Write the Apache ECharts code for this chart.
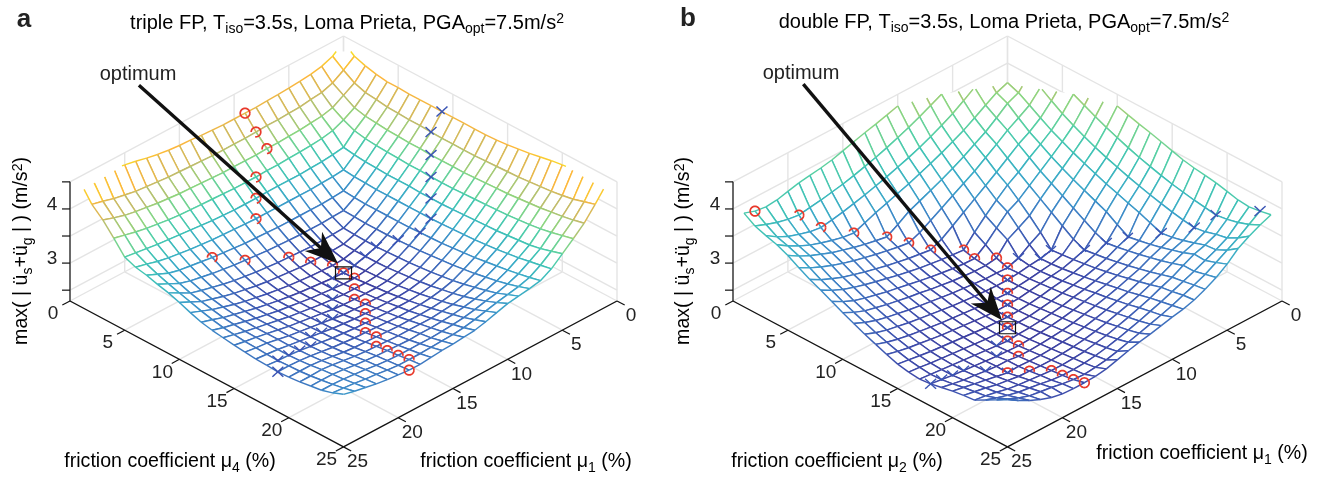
<!DOCTYPE html>
<html>
<head>
<meta charset="utf-8">
<style>html,body{margin:0;padding:0;background:#fff}#chart{width:1329px;height:477px}</style>
<script src="https://cdn.jsdelivr.net/npm/echarts@6/dist/echarts.min.js"></script>
</head>
<body>
<div id="chart"></div>
<script>
// floor ticks, z ticks
const floorTicks = [0, 5, 10, 15, 20, 25];
const zTicks = [2.5, 3, 3.5, 4, 4.5];
const zLabels = [3, 4];
const meshMu = [1,2,3,4,5,6,7,8,9,10,11,12,13,14,15,16,17,18,19,20,21,22,23,24,25];

// panel a, rows are mu1 = 1..25, columns mu4 = 1..25
const zA = [
[4.60,4.45,4.38,4.33,4.30,4.30,4.29,4.29,4.29,4.29,4.29,4.29,4.29,4.29,4.30,4.32,4.35,4.38,4.42,4.46,4.49,4.52,4.54,4.55,4.56],
[4.45,4.30,4.17,4.10,4.08,4.05,4.04,4.03,4.03,4.02,4.01,4.01,4.01,4.01,4.02,4.03,4.04,4.05,4.07,4.09,4.11,4.14,4.18,4.24,4.30],
[4.37,4.17,4.05,3.93,3.88,3.86,3.84,3.83,3.82,3.82,3.81,3.81,3.81,3.81,3.82,3.83,3.84,3.85,3.87,3.89,3.91,3.94,3.97,4.01,4.06],
[4.33,4.10,3.93,3.81,3.72,3.68,3.66,3.65,3.64,3.63,3.63,3.62,3.62,3.62,3.63,3.64,3.65,3.66,3.67,3.69,3.71,3.74,3.78,3.83,3.88],
[4.31,4.08,3.88,3.72,3.52,3.49,3.47,3.46,3.45,3.45,3.45,3.44,3.44,3.44,3.45,3.46,3.47,3.48,3.49,3.51,3.53,3.55,3.59,3.65,3.71],
[4.29,4.05,3.86,3.68,3.49,3.32,3.30,3.29,3.28,3.28,3.28,3.28,3.28,3.28,3.29,3.30,3.31,3.32,3.34,3.36,3.39,3.42,3.46,3.50,3.54],
[4.28,4.04,3.84,3.66,3.47,3.30,3.15,3.13,3.12,3.12,3.12,3.12,3.12,3.13,3.14,3.15,3.17,3.19,3.21,3.24,3.27,3.30,3.34,3.38,3.43],
[4.27,4.03,3.83,3.65,3.46,3.29,3.13,3.00,2.99,2.98,2.98,2.98,2.99,3.00,3.01,3.03,3.05,3.07,3.10,3.13,3.17,3.21,3.26,3.32,3.39],
[4.26,4.03,3.82,3.64,3.45,3.28,3.12,2.99,2.89,2.88,2.87,2.87,2.88,2.89,2.90,2.92,2.94,2.97,3.00,3.04,3.09,3.14,3.20,3.28,3.36],
[4.26,4.02,3.82,3.63,3.45,3.28,3.12,2.98,2.88,2.81,2.80,2.80,2.80,2.81,2.83,2.85,2.87,2.90,2.94,2.98,3.03,3.09,3.16,3.24,3.33],
[4.26,4.01,3.81,3.63,3.45,3.28,3.12,2.98,2.87,2.80,2.75,2.74,2.75,2.76,2.78,2.80,2.83,2.86,2.90,2.94,2.99,3.05,3.11,3.19,3.27],
[4.26,4.01,3.81,3.62,3.45,3.28,3.12,2.98,2.87,2.80,2.74,2.71,2.72,2.74,2.76,2.78,2.81,2.84,2.88,2.92,2.97,3.02,3.07,3.14,3.21],
[4.27,4.01,3.81,3.62,3.44,3.28,3.12,2.99,2.88,2.80,2.75,2.72,2.72,2.74,2.76,2.78,2.81,2.84,2.87,2.91,2.95,3.00,3.05,3.10,3.16],
[4.28,4.01,3.81,3.62,3.44,3.28,3.13,3.00,2.89,2.81,2.76,2.74,2.74,2.74,2.76,2.78,2.81,2.84,2.87,2.91,2.95,2.99,3.03,3.08,3.14],
[4.30,4.02,3.82,3.63,3.44,3.29,3.14,3.01,2.90,2.83,2.78,2.76,2.76,2.76,2.77,2.79,2.82,2.85,2.88,2.91,2.95,2.99,3.02,3.07,3.12],
[4.31,4.03,3.83,3.64,3.45,3.30,3.15,3.03,2.92,2.85,2.80,2.78,2.78,2.78,2.79,2.80,2.83,2.86,2.89,2.92,2.95,2.98,3.02,3.06,3.11],
[4.33,4.04,3.84,3.65,3.46,3.31,3.17,3.05,2.94,2.87,2.83,2.81,2.81,2.81,2.82,2.83,2.85,2.87,2.90,2.93,2.96,2.99,3.02,3.05,3.09],
[4.36,4.05,3.85,3.66,3.48,3.32,3.19,3.07,2.97,2.90,2.86,2.84,2.84,2.84,2.85,2.86,2.87,2.89,2.91,2.94,2.97,3.00,3.02,3.05,3.07],
[4.40,4.07,3.87,3.67,3.50,3.34,3.21,3.10,3.00,2.94,2.90,2.88,2.87,2.87,2.88,2.89,2.90,2.91,2.93,2.95,2.98,3.01,3.03,3.05,3.07],
[4.45,4.09,3.89,3.69,3.52,3.36,3.24,3.13,3.04,2.98,2.94,2.92,2.91,2.91,2.91,2.92,2.93,2.94,2.95,2.97,3.00,3.03,3.05,3.07,3.09],
[4.49,4.11,3.92,3.72,3.54,3.39,3.27,3.17,3.09,3.03,2.99,2.97,2.95,2.95,2.95,2.95,2.96,2.97,2.98,3.00,3.03,3.05,3.08,3.10,3.11],
[4.53,4.15,3.95,3.75,3.56,3.42,3.30,3.21,3.14,3.09,3.05,3.02,3.00,2.99,2.99,2.99,2.99,3.00,3.01,3.03,3.06,3.08,3.10,3.12,3.14],
[4.56,4.19,3.99,3.79,3.59,3.46,3.35,3.27,3.20,3.15,3.11,3.07,3.05,3.03,3.03,3.03,3.02,3.02,3.03,3.05,3.08,3.10,3.12,3.15,3.18],
[4.57,4.25,4.05,3.84,3.62,3.52,3.44,3.37,3.31,3.25,3.19,3.14,3.10,3.08,3.06,3.05,3.04,3.03,3.04,3.05,3.07,3.10,3.13,3.17,3.22],
[4.58,4.30,4.12,3.89,3.65,3.57,3.53,3.47,3.42,3.35,3.27,3.20,3.16,3.13,3.10,3.08,3.06,3.05,3.04,3.05,3.07,3.10,3.13,3.19,3.27]
];
// best mu1 for each mu4 (red circles), best mu4 for each mu1 (blue crosses)
const circleA = [10,10,10,12,13,14,19,17,14,13,12,12,12,13,14,14,15,16,17,17,18,18,18,18,19];
const crossA = [10,10,11,12,13,14,14,13,12,12,12,12,12,13,14,15,16,16,17,17,18,18,18,18,19];
const optimumA = [12, 12];

// panel b, rows are mu2 = 1..25, columns mu1 = 1..25
const zB = [
[5.62,5.45,5.30,5.20,5.10,5.00,4.90,4.78,4.68,4.58,4.50,4.44,4.38,4.33,4.27,4.21,4.15,4.11,4.08,4.05,4.00,3.95,3.93,3.96,4.03],
[5.45,5.25,5.12,5.00,4.88,4.76,4.63,4.50,4.40,4.30,4.21,4.13,4.05,3.98,3.92,3.86,3.81,3.77,3.73,3.70,3.67,3.70,3.75,3.82,3.90],
[5.30,5.12,4.90,4.78,4.65,4.52,4.38,4.25,4.14,4.04,3.95,3.87,3.80,3.73,3.67,3.61,3.56,3.51,3.47,3.44,3.47,3.53,3.60,3.70,3.83],
[5.20,5.00,4.78,4.50,4.42,4.30,4.17,4.05,3.95,3.85,3.76,3.68,3.60,3.53,3.46,3.39,3.31,3.23,3.26,3.31,3.37,3.44,3.53,3.64,3.77],
[5.10,4.88,4.65,4.42,4.33,4.17,4.02,3.90,3.78,3.67,3.57,3.48,3.39,3.30,3.17,3.05,3.09,3.13,3.18,3.24,3.30,3.38,3.46,3.56,3.68],
[5.00,4.76,4.52,4.30,4.17,4.05,3.90,3.76,3.62,3.50,3.38,3.26,3.14,3.02,2.94,2.97,3.01,3.05,3.10,3.15,3.21,3.28,3.36,3.45,3.56],
[4.90,4.63,4.38,4.17,4.02,3.90,3.75,3.60,3.46,3.32,3.18,3.04,2.90,2.81,2.84,2.87,2.91,2.95,3.00,3.05,3.11,3.17,3.25,3.34,3.45],
[4.78,4.50,4.25,4.05,3.90,3.76,3.60,3.47,3.30,3.12,2.92,2.70,2.72,2.74,2.77,2.80,2.84,2.88,2.93,2.98,3.03,3.09,3.16,3.25,3.36],
[4.68,4.40,4.14,3.95,3.78,3.62,3.46,3.30,3.19,3.00,2.80,2.65,2.66,2.68,2.71,2.74,2.78,2.82,2.86,2.90,2.95,3.00,3.06,3.15,3.26],
[4.58,4.30,4.04,3.85,3.67,3.50,3.32,3.12,3.00,2.89,2.66,2.63,2.63,2.65,2.67,2.70,2.73,2.77,2.80,2.84,2.88,2.93,2.98,3.06,3.16],
[4.50,4.21,3.95,3.76,3.57,3.38,3.18,2.92,2.80,2.66,2.59,2.60,2.60,2.62,2.64,2.66,2.69,2.72,2.75,2.78,2.82,2.86,2.91,2.98,3.07],
[4.44,4.13,3.87,3.68,3.48,3.26,3.04,2.70,2.65,2.63,2.60,2.58,2.58,2.59,2.60,2.62,2.64,2.67,2.70,2.73,2.76,2.80,2.84,2.90,2.98],
[4.38,4.05,3.80,3.60,3.39,3.14,2.90,2.72,2.66,2.63,2.60,2.58,2.55,2.56,2.57,2.59,2.61,2.63,2.65,2.68,2.71,2.74,2.78,2.83,2.90],
[4.33,3.98,3.73,3.53,3.30,3.02,2.81,2.74,2.68,2.65,2.62,2.59,2.56,2.55,2.55,2.56,2.58,2.60,2.62,2.64,2.67,2.70,2.73,2.77,2.82],
[4.27,3.92,3.67,3.46,3.17,2.94,2.84,2.77,2.71,2.67,2.64,2.60,2.57,2.55,2.54,2.55,2.56,2.58,2.60,2.62,2.64,2.66,2.69,2.72,2.75],
[4.21,3.86,3.61,3.39,3.05,2.97,2.87,2.80,2.74,2.70,2.66,2.62,2.59,2.56,2.55,2.56,2.55,2.56,2.58,2.60,2.62,2.64,2.66,2.69,2.71],
[4.15,3.81,3.56,3.31,3.09,3.01,2.91,2.84,2.78,2.73,2.69,2.64,2.61,2.58,2.56,2.55,2.53,2.55,2.57,2.59,2.61,2.63,2.65,2.67,2.69],
[4.11,3.77,3.51,3.23,3.13,3.05,2.95,2.88,2.82,2.77,2.72,2.67,2.63,2.60,2.58,2.56,2.55,2.56,2.57,2.59,2.61,2.63,2.65,2.68,2.71],
[4.08,3.73,3.47,3.26,3.18,3.10,3.00,2.93,2.86,2.80,2.75,2.70,2.65,2.62,2.60,2.58,2.57,2.57,2.60,2.60,2.62,2.65,2.67,2.71,2.75],
[4.05,3.70,3.44,3.31,3.24,3.15,3.05,2.98,2.90,2.84,2.78,2.73,2.68,2.64,2.62,2.60,2.59,2.59,2.60,2.59,2.63,2.67,2.71,2.75,2.79],
[4.00,3.67,3.47,3.37,3.30,3.21,3.11,3.03,2.95,2.88,2.82,2.76,2.71,2.67,2.64,2.62,2.61,2.61,2.62,2.63,2.66,2.69,2.74,2.78,2.82],
[3.95,3.70,3.53,3.44,3.38,3.28,3.17,3.09,3.00,2.93,2.86,2.80,2.74,2.70,2.66,2.64,2.63,2.63,2.65,2.67,2.69,2.72,2.77,2.81,2.84],
[3.93,3.75,3.57,3.46,3.37,3.28,3.20,3.12,3.04,2.97,2.90,2.84,2.78,2.73,2.69,2.66,2.65,2.65,2.67,2.71,2.74,2.77,2.82,2.88,2.95],
[3.96,3.82,3.68,3.56,3.44,3.33,3.24,3.16,3.08,3.01,2.95,2.89,2.83,2.77,2.72,2.69,2.67,2.68,2.71,2.75,2.78,2.81,2.88,2.97,3.06],
[4.00,3.92,3.82,3.70,3.52,3.38,3.27,3.18,3.12,3.08,3.03,2.98,2.94,2.89,2.83,2.77,2.74,2.73,2.73,2.74,2.78,2.85,2.94,3.05,3.17]
];
const circleB = [24,21,20,18,16,15,14,12,12,11,11,12,13,14,15,16,17,17,18,20,19,18,18,18,18];
const crossB = [24,21,20,18,16,15,14,12,12,11,11,12,13,14,15,16,17,17,18,20,19,18,18,18,18];
const optimumB = [16, 16];

const zMin = 2.3, zMax = 4.5;
const floorSlope = 0.10775; // drop of the floor in z units per unit of mu1+mu2

// parula like colors as they came out in the print
const colorStops = [
  [0, "#3c3a9c"], [0.08, "#3d50ae"], [0.16, "#3e6cbc"], [0.25, "#3c8ac8"],
  [0.33, "#3aa8c8"], [0.42, "#3dc0b8"], [0.5, "#52cfa6"], [0.6, "#8dd57f"],
  [0.7, "#c0bc6c"], [0.8, "#e0b850"], [0.85, "#fdb63b"], [0.95, "#f8d82a"], [1, "#f8e622"]
];
function hex(c, i) {
  return parseInt(c.substr(1 + i * 2, 2), 16);
}
function colorAt(f) {
  f = Math.max(0, Math.min(1, f));
  let k = 0;
  while (k < colorStops.length - 2 && f > colorStops[k + 1][0]) k++;
  const a = colorStops[k], b = colorStops[k + 1];
  const t = (f - a[0]) / (b[0] - a[0]);
  const rgb = [0, 1, 2].map(i => Math.round(hex(a[1], i) + (hex(b[1], i) - hex(a[1], i)) * t));
  return "rgb(" + rgb.join(",") + ")";
}

function project(u, v, z) {
  return [v - u, z - zMin - (u + v) * floorSlope];
}
// how near to the viewer a point is, for hiding marks behind the mesh
function depth(u, v, z) {
  return 9.31 * (u + v) + 34 * z;
}

// cut a mesh line at the top of the z axis, as the axes box does
function clipSegment(p, q) {
  if (p[2] > zMax && q[2] > zMax) return null;
  const cut = (a, b) => {
    const t = (zMax - a[2]) / (b[2] - a[2]);
    return [a[0] + (b[0] - a[0]) * t, a[1] + (b[1] - a[1]) * t, zMax];
  };
  if (p[2] > zMax) return [cut(q, p), q];
  if (q[2] > zMax) return [p, cut(p, q)];
  return [p, q];
}
function clipPolygon(pts) {
  const out = [];
  pts.forEach((p, i) => {
    const q = pts[(i + 1) % pts.length];
    const seg = clipSegment(p, q);
    if (seg) {
      if (out.length === 0 || out[out.length - 1] !== seg[0]) out.push(seg[0]);
      out.push(seg[1]);
    }
  });
  return out;
}

// one list of things to draw per panel, back to front
function buildItems(z, circle, cross, optimum, tail, tip) {
  const n = meshMu.length;
  const all = z.reduce((acc, r) => acc.concat(r), []);
  const cMin = Math.min.apply(null, all), cMax = Math.max.apply(null, all);
  const items = [{ kind: "frame" }];
  for (let s = 0; s <= 2 * (n - 1); s++) {
    for (let i = 0; i < n - 1; i++) {
      const j = s - i;
      if (j >= 0 && j < n - 1) items.push({ kind: "cell", i: i, j: j });
    }
  }
  cross.forEach((vi, i) => items.push({ kind: "cross", i: i, j: vi - 1, full: i === n - 1 }));
  circle.forEach((ui, j) => items.push({ kind: "circle", i: ui - 1, j: j, full: j === 0 || j === n - 1 }));
  items.push({ kind: "axes" });
  items.push({ kind: "box", i: optimum[0] - 1, j: optimum[1] - 1 });
  items.push({ kind: "arrow", tail: tail, tip: tip });
  return { items, z, cMin, cMax };
}

function makeRender(panel) {
  const n = meshMu.length;
  const node = (i, j) => [meshMu[i], meshMu[j], panel.z[i][j]];
  const color = zv => colorAt((zv - panel.cMin) / (panel.cMax - panel.cMin));
  return function (params, api) {
    const it = panel.items[api.value(2)];
    const px = p => api.coord(project(p[0], p[1], p[2]));
    const line = (a, b, col, w) => ({
      type: "line", silent: true,
      shape: { x1: a[0], y1: a[1], x2: b[0], y2: b[1] },
      style: { stroke: col, lineWidth: w }
    });
    // true when a screen point next to a node lies behind the mesh
    const hidden = (s, m) => {
      const dm = depth(m[0], m[1], m[2]);
      for (let i = Math.max(0, it.i - 3); i < Math.min(n - 1, it.i + 3); i++) {
        for (let j = Math.max(0, it.j - 3); j < Math.min(n - 1, it.j + 3); j++) {
          const c = [node(i, j), node(i + 1, j), node(i + 1, j + 1), node(i, j + 1)];
          const tris = [[c[0], c[1], c[2]], [c[0], c[2], c[3]]];
          for (let t = 0; t < 2; t++) {
            const a = px(tris[t][0]), b = px(tris[t][1]), d = px(tris[t][2]);
            const den = (b[1] - d[1]) * (a[0] - d[0]) + (d[0] - b[0]) * (a[1] - d[1]);
            if (Math.abs(den) < 1e-6) continue;
            const w1 = ((b[1] - d[1]) * (s[0] - d[0]) + (d[0] - b[0]) * (s[1] - d[1])) / den;
            const w2 = ((d[1] - a[1]) * (s[0] - d[0]) + (a[0] - d[0]) * (s[1] - d[1])) / den;
            const w3 = 1 - w1 - w2;
            if (w1 < 0 || w2 < 0 || w3 < 0) continue;
            const ds = w1 * depth.apply(null, tris[t][0]) + w2 * depth.apply(null, tris[t][1]) + w3 * depth.apply(null, tris[t][2]);
            if (ds > dm + 3) return true;
          }
        }
      }
      return false;
    };
    // polyline split into its parts that can be seen
    const visibleParts = (pts, m, full, col, w) => {
      const out = [];
      let run = [];
      pts.forEach(s => {
        if (full || !hidden(s, m)) run.push(s);
        else {
          if (run.length > 1) out.push(run);
          run = [];
        }
      });
      if (run.length > 1) out.push(run);
      return out.map(r => ({
        type: "polyline", silent: true,
        shape: { points: r },
        style: { stroke: col, lineWidth: w, fill: null }
      }));
    };
    let kids = [];
    if (it.kind === "frame") {
      const g = "#e4e4e4";
      floorTicks.forEach(t => {
        kids.push(line(px([t, 0, zMin]), px([t, 25, zMin]), g, 1.4));
        kids.push(line(px([0, t, zMin]), px([25, t, zMin]), g, 1.4));
        kids.push(line(px([t, 0, zMin]), px([t, 0, zMax]), g, 1.4));
        kids.push(line(px([0, t, zMin]), px([0, t, zMax]), g, 1.4));
      });
      zTicks.forEach(t => {
        kids.push(line(px([25, 0, t]), px([0, 0, t]), g, 1.4));
        kids.push(line(px([0, 0, t]), px([0, 25, t]), g, 1.4));
      });
    } else if (it.kind === "cell") {
      const c = [node(it.i, it.j), node(it.i + 1, it.j), node(it.i + 1, it.j + 1), node(it.i, it.j + 1)];
      const poly = clipPolygon(c);
      if (poly.length > 2) {
        kids.push({
          type: "polygon", silent: true,
          shape: { points: poly.map(px) },
          style: { fill: "#fff", stroke: null }
        });
      }
      c.forEach((p, k) => {
        const q = c[(k + 1) % 4];
        const seg = clipSegment(p, q);
        if (seg) kids.push(line(px(seg[0]), px(seg[1]), color((p[2] + q[2]) / 2), 1.45));
      });
    } else if (it.kind === "circle") {
      const m = node(it.i, it.j), p = px(m), pts = [];
      for (let a = 0; a <= 36; a++) {
        const t = a / 36 * 2 * Math.PI;
        pts.push([p[0] + 4.8 * Math.cos(t), p[1] + 4.8 * Math.sin(t)]);
      }
      kids = visibleParts(pts, m, it.full, "#e8392b", 1.7);
    } else if (it.kind === "cross") {
      const m = node(it.i, it.j), p = px(m);
      [1, -1].forEach(sign => {
        const pts = [];
        for (let a = -6; a <= 6; a++) {
          pts.push([p[0] + a / 6 * 5.5, p[1] + sign * a / 6 * 5]);
        }
        kids = kids.concat(visibleParts(pts, m, it.full, "#3a54b4", 1.4));
      });
    } else if (it.kind === "axes") {
      const k = "#111";
      kids.push(line(px([25, 0, zMin]), px([25, 25, zMin]), k, 1.2));
      kids.push(line(px([25, 25, zMin]), px([0, 25, zMin]), k, 1.2));
      kids.push(line(px([25, 0, zMin]), px([25, 0, zMax]), k, 1.2));
      const text = (t, p, dx, dy) => ({
        type: "text", silent: true,
        style: {
          text: String(t), x: p[0] + dx, y: p[1] + dy, fill: "#222",
          fontFamily: "Liberation Sans", fontSize: 19, align: "center", verticalAlign: "middle"
        }
      });
      floorTicks.forEach(t => {
        const a = px([25, t, zMin]), a2 = px([25.7, t, zMin]);
        const b = px([t, 25, zMin]), b2 = px([t, 25.7, zMin]);
        kids.push(line(a, a2, k, 1.2));
        kids.push(line(b, b2, k, 1.2));
        kids.push(text(t, a, -17, 13));
        kids.push(text(t, b, 14, 15));
      });
      zTicks.forEach(t => {
        const a = px([25, 0, t]);
        kids.push(line(a, [a[0] - 8, a[1]], k, 1.2));
      });
      zLabels.forEach(t => {
        kids.push(text(t, px([25, 0, t]), -18, -4));
      });
    } else if (it.kind === "box") {
      const p = px(node(it.i, it.j));
      kids.push({
        type: "rect", silent: true,
        shape: { x: p[0] - 8, y: p[1] - 6, width: 16, height: 12 },
        style: { fill: null, stroke: "#111", lineWidth: 1.2 }
      });
    } else if (it.kind === "arrow") {
      const a = api.coord(it.tail), b = api.coord(it.tip);
      const len = Math.hypot(b[0] - a[0], b[1] - a[1]);
      const d = [(b[0] - a[0]) / len, (b[1] - a[1]) / len];
      const at = (back, side) => [b[0] - d[0] * back - d[1] * side, b[1] - d[1] * back + d[0] * side];
      kids.push(line(a, at(20, 0), "#111", 3.4));
      kids.push({
        type: "polygon", silent: true,
        shape: { points: [b, at(33, 13), at(23, 0), at(33, -13)] },
        style: { fill: "#111", stroke: null }
      });
    }
    return { type: "group", children: kids };
  };
}

const panelA = buildItems(zA, circleA, crossA, optimumA, [-18.7, 1.29], [-0.5, -2.0]);
// zB is stored by mu2 rows, the drawing wants mu1 rows
const zBbyMu1 = meshMu.map((m, i) => zB.map(r => r[i]));
const panelB = buildItems(zBbyMu1, circleB, crossB, optimumB, [-18.6, 1.31], [-0.5, -3.05]);

function seriesFor(panel, index) {
  return {
    type: "custom",
    xAxisIndex: index,
    yAxisIndex: index,
    coordinateSystem: "cartesian2d",
    clip: false,
    silent: true,
    animation: false,
    progressive: 0,
    renderItem: makeRender(panel),
    encode: { x: 0, y: 1 },
    data: panel.items.map((it, i) => [0, 0, i])
  };
}

const rich = {
  t: { fontSize: 20, fontFamily: "Liberation Sans", color: "#222", lineHeight: 27 },
  m: { fontSize: 19.6, fontFamily: "Liberation Sans", color: "#222", lineHeight: 27 },
  s: { fontSize: 14, fontFamily: "Liberation Sans", color: "#222", verticalAlign: "bottom" },
  p: { fontSize: 14, fontFamily: "Liberation Sans", color: "#222", verticalAlign: "top", padding: [3, 0, 0, 0] }
};
function label(text, x, y, rotation) {
  return {
    type: "text", x: x, y: y, rotation: rotation || 0, silent: true,
    style: { text: text, rich: rich, align: "center", verticalAlign: "middle" }
  };
}
function plain(text, x, y, size, bold) {
  return {
    type: "text", x: x, y: y, silent: true,
    style: {
      text: text, fill: "#222", fontFamily: "Liberation Sans", fontSize: size,
      fontWeight: bold ? "bold" : "normal", align: "center", verticalAlign: "middle"
    }
  };
}
const yName = "{m|max( | ü}{s|s}{m|+ü}{s|g}{m| | ) (m/s}{p|2}{m|)}";

const chart = echarts.init(document.getElementById("chart"), null, { renderer: "canvas" });
chart.setOption({
  animation: false,
  backgroundColor: "#fff",
  grid: [
    { left: 70, top: 36, width: 547, height: 411 },
    { left: 733, top: 36, width: 549, height: 411 }
  ],
  xAxis: [
    { type: "value", gridIndex: 0, min: -25, max: 25, show: false },
    { type: "value", gridIndex: 1, min: -25, max: 25, show: false }
  ],
  yAxis: [
    { type: "value", gridIndex: 0, min: -5.39, max: 2.2, show: false },
    { type: "value", gridIndex: 1, min: -5.39, max: 2.2, show: false }
  ],
  series: [seriesFor(panelA, 0), seriesFor(panelB, 1)],
  graphic: [
    plain("a", 24, 20, 26, true),
    plain("b", 688, 19, 26, true),
    label("{t|triple FP, T}{s|iso}{t|=3.5s, Loma Prieta, PGA}{s|opt}{t|=7.5m/s}{p|2}", 347, 23),
    label("{t|double FP, T}{s|iso}{t|=3.5s, Loma Prieta, PGA}{s|opt}{t|=7.5m/s}{p|2}", 1004, 22),
    plain("optimum", 138, 74, 20),
    plain("optimum", 801, 73, 20),
    label("{m|friction coefficient μ}{s|4}{m| (%)}", 170, 462),
    label("{m|friction coefficient μ}{s|1}{m| (%)}", 526, 462),
    label("{m|friction coefficient μ}{s|2}{m| (%)}", 837, 462),
    label("{m|friction coefficient μ}{s|1}{m| (%)}", 1202, 454),
    label(yName, 22, 251, Math.PI / 2),
    label(yName, 684, 251, Math.PI / 2)
  ]
});
</script>
</body>
</html>
